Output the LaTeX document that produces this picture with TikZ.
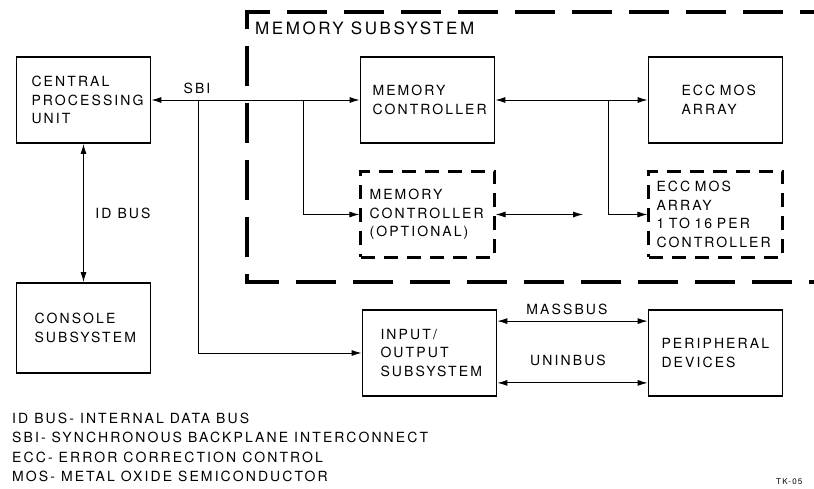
\documentclass[tikz,border=0pt]{standalone}
\usepackage{fontspec}
\setmainfont[LetterSpace=15]{TeX Gyre Heros}
\usetikzlibrary{arrows.meta}
\tikzset{
  blk/.style={draw,line width=1.8pt,minimum width=134pt,minimum height=86pt,
    inner xsep=#1,text width=134pt-2*#1,align=left,
    font=\fontsize{14}{18.5}\selectfont},
  optblk/.style={blk=#1,dash pattern=on 14pt off 9pt,line width=2.2pt},
  bus/.style={line width=0.9pt},
  lbl/.style={font=\fontsize{14}{18.5}\selectfont,inner sep=0pt}
}
\begin{document}
\begin{tikzpicture}[x=1pt,y=-1pt,>={Latex[length=10pt,width=6pt]}]
        \useasboundingbox (0,0) rectangle (814,489);
        % memory subsystem boundary
        \draw[line width=4pt,dash pattern=on 40pt off 17pt](840,12)--(247,12)--(247,282)--(840,282);
        \node[anchor=west,inner sep=0pt,font=\fontsize{17}{20}\selectfont](memlbl) at (255,28){MEMORY SUBSYSTEM};
        % blocks
        \node[blk=15pt](cpu) at (83.5,100){CENTRAL\\PROCESSING\\UNIT};
        \node[blk=18pt,minimum height=90pt](con) at (83.5,328){CONSOLE\\SUBSYSTEM};
        \node[blk=12pt](mc) at (427.5,100){MEMORY\\CONTROLLER};
        \node[blk=33pt](ecc) at (715.5,100){ECC~MOS\\ARRAY};
        \node[optblk=9pt](omc) at (427.5,214.5){MEMORY\\CONTROLLER\\(OPTIONAL)};
        \node[optblk=8pt](eccx) at (715.5,214.5){ECC MOS\\ARRAY\\1 TO 16 PER\\CONTROLLER};
        \node[blk=18pt](io) at (429.5,353){INPUT/\\OUTPUT\\SUBSYSTEM};
        \node[blk=13pt](per) at (715.5,353){PERIPHERAL\\DEVICES};
        % branch points
        \coordinate(b1) at (198,100);
        \coordinate(b2) at (303,100);
        \coordinate(b3) at (608,100);
        \coordinate(oend) at (583,214.5);
        % connectors
        \draw[bus,<->](cpu)--(con);
        \draw[bus,<->](cpu)--(mc);
        \draw[bus,->](b1)|-(io);
        \draw[bus,->](b2)|-(omc);
        \draw[bus,<->](mc)--(ecc);
        \draw[bus,->](b3)|-(eccx);
        \draw[bus,<->](omc)--(oend);
        \draw[bus,<->]([yshift=-12pt]io.north east)--([yshift=-12pt]per.north west);
        \draw[bus,<->]([yshift=14pt]io.south east)--([yshift=14pt]per.south west);
        % labels
        \node[lbl](sbi) at (197,88){SBI};
        \node[lbl](idbus) at (123,213){ID BUS};
        \node[lbl](mass) at (567,309){MASSBUS};
        \node[lbl](uni) at (568,360){UNINBUS};
        \node[anchor=north west,align=left,inner sep=0pt,font=\fontsize{14}{19.3}\selectfont](legend) at (12,413){ID BUS- INTERNAL DATA BUS\\SBI- SYNCHRONOUS BACKPLANE INTERCONNECT\\ECC- ERROR CORRECTION CONTROL\\MOS- METAL OXIDE SEMICONDUCTOR};
        \node[anchor=north west,inner sep=0pt,font=\fontsize{8}{8}\selectfont](tk) at (776,478){TK-05};
\end{tikzpicture}
\end{document}
